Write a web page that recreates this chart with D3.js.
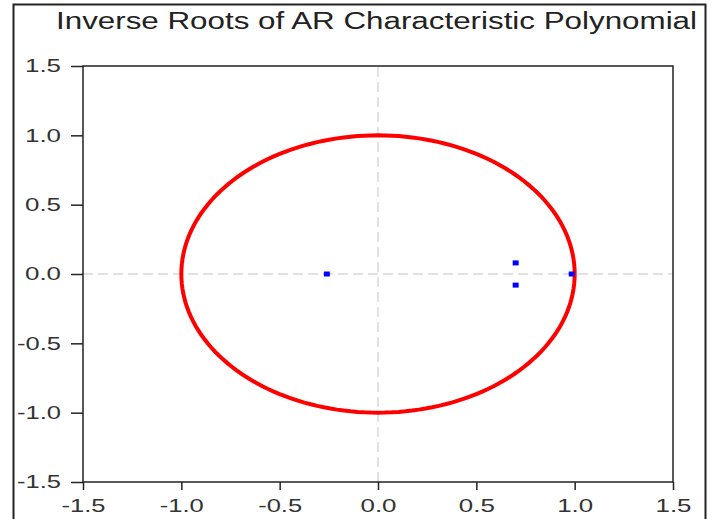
<!DOCTYPE html>
<html>
<head>
<meta charset="utf-8">
<script src="https://cdn.jsdelivr.net/npm/d3@7"></script>
<style>
  body { margin: 0; background: #fff; }
  svg { display: block; font-family: "Liberation Sans", Arial, sans-serif; }
</style>
</head>
<body>
<div class="chart"></div>
<script>
// Inverse roots (real, imaginary)
var rootRe = [-0.26, 0.70, 0.70, 0.985];
var rootIm = [0.0, 0.08, -0.08, 0.0];
var tickValues = [-1.5, -1.0, -0.5, 0.0, 0.5, 1.0, 1.5];
var title = "Inverse Roots of AR Characteristic Polynomial";

var width = 712, height = 519;
var margin = { top: 66, right: 39, bottom: 37, left: 83 };

var svg = d3.select(".chart").append("svg")
  .attr("width", width)
  .attr("height", height);

// outer frame
svg.append("rect")
  .attr("x", 13.5)
  .attr("y", 4.5)
  .attr("width", 692)
  .attr("height", 530)
  .attr("fill", "none")
  .attr("stroke", "#222")
  .attr("stroke-width", 2);

// title
svg.append("text")
  .attr("x", 56)
  .attr("y", 29)
  .attr("textLength", 641)
  .attr("lengthAdjust", "spacingAndGlyphs")
  .style("font-size", "23px")
  .attr("fill", "#222")
  .text(title);

var x = d3.scaleLinear()
  .domain([-1.5, 1.5])
  .range([margin.left, width - margin.right]);

var y = d3.scaleLinear()
  .domain([-1.5, 1.5])
  .range([height - margin.bottom, margin.top]);

// zero lines
svg.append("line")
  .attr("x1", x(-1.5)).attr("x2", x(1.5))
  .attr("y1", y(0)).attr("y2", y(0))
  .attr("stroke", "#d8d8d8")
  .attr("stroke-width", 1.5)
  .attr("stroke-dasharray", "10,5");

svg.append("line")
  .attr("x1", x(0)).attr("x2", x(0))
  .attr("y1", y(-1.5)).attr("y2", y(1.5))
  .attr("stroke", "#d8d8d8")
  .attr("stroke-width", 1.5)
  .attr("stroke-dasharray", "10,5");

// unit circle
var angles = d3.range(0, 361, 2);
var circleLine = d3.line()
  .x(function(a) { return x(Math.cos(a * Math.PI / 180)); })
  .y(function(a) { return y(Math.sin(a * Math.PI / 180)); });

svg.append("path")
  .datum(angles)
  .attr("fill", "none")
  .attr("stroke", "#ff0000")
  .attr("stroke-width", 4)
  .attr("d", circleLine);

// roots
svg.selectAll(".root")
  .data(rootRe)
  .enter()
  .append("rect")
  .attr("class", "root")
  .attr("x", function(d) { return x(d) - 3; })
  .attr("y", function(d, i) { return y(rootIm[i]) - 2.5; })
  .attr("width", 6)
  .attr("height", 5)
  .attr("fill", "#0000ff");

// plot box
svg.append("rect")
  .attr("x", x(-1.5))
  .attr("y", y(1.5))
  .attr("width", x(1.5) - x(-1.5))
  .attr("height", y(-1.5) - y(1.5))
  .attr("fill", "none")
  .attr("stroke", "#222")
  .attr("stroke-width", 1.5);

// axes
var xAxis = svg.append("g")
  .attr("transform", "translate(0," + y(-1.5) + ")")
  .call(d3.axisBottom(x).tickValues(tickValues).tickFormat(d3.format(".1f")).tickSize(8).tickSizeOuter(0));

var yAxis = svg.append("g")
  .attr("transform", "translate(" + x(-1.5) + ",0)")
  .call(d3.axisLeft(y).tickValues(tickValues).tickFormat(d3.format(".1f")).tickSize(12).tickSizeOuter(0));

[xAxis, yAxis].forEach(function(ax) {
  ax.select(".domain").remove();
  ax.selectAll("line").attr("stroke", "#222").attr("stroke-width", 1.5);
  ax.selectAll("text")
    .attr("fill", "#333")
    .style("font-size", "18px")
    .style("font-family", "\"Liberation Sans\", Arial, sans-serif")
    .text(function(d) { return d3.format(".1f")(d).replace("−", "-"); })
    .attr("textLength", function(d) { return d < 0 ? 44 : 36; })
    .attr("lengthAdjust", "spacingAndGlyphs");
});

xAxis.selectAll("text").attr("y", 17);
yAxis.selectAll("text").attr("x", -22);
</script>
</body>
</html>
